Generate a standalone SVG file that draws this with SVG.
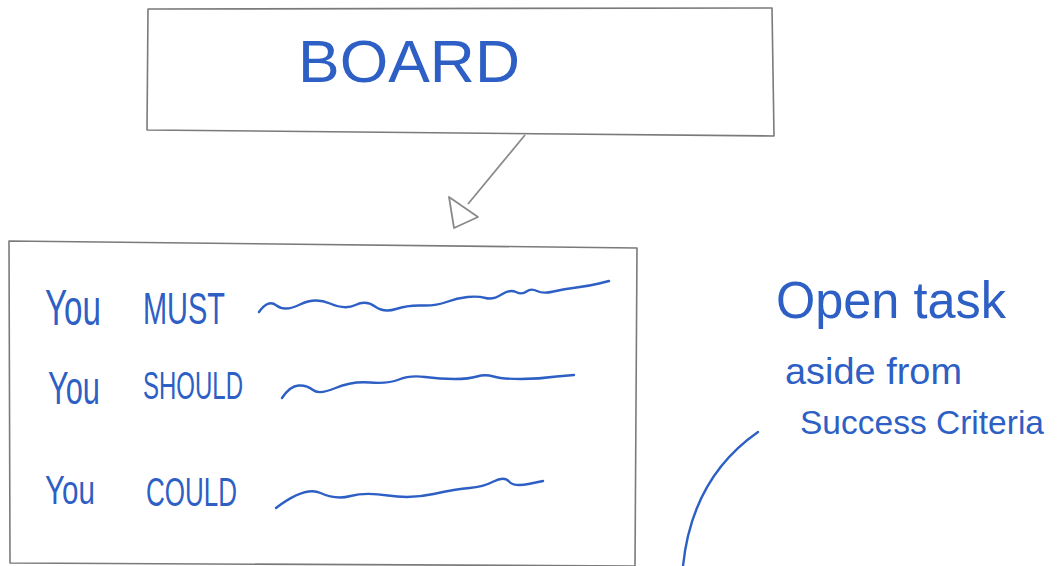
<svg xmlns="http://www.w3.org/2000/svg" width="1060" height="566" viewBox="0 0 1060 566">
<defs>
<style>
.box{fill:none;stroke:#7a7a7a;stroke-width:1.6;stroke-linejoin:round}
.hand{font-family:"Liberation Sans",Arial,sans-serif;fill:#2d5fc4}
.ink{fill:none;stroke:#2d5fc4;stroke-width:2.4;stroke-linecap:round;stroke-linejoin:round}
.conn{fill:none;stroke:#8a8a8a;stroke-width:1.8;stroke-linejoin:round}
</style>
</defs>
<rect width="1060" height="566" fill="#ffffff"/>
<g id="board">
<polygon class="box" points="148,9 772,8 774,136 147,130"/>
<text class="hand" x="298" y="82" font-size="60" textLength="222" lengthAdjust="spacingAndGlyphs">BOARD</text>
</g>
<g id="objectives">
<polygon class="box" points="9,241 637,248 635,566 10,563"/>
<text class="hand" x="45" y="325" font-size="50" textLength="56" lengthAdjust="spacingAndGlyphs">You</text>
<text class="hand" x="143" y="324" font-size="44" textLength="82" lengthAdjust="spacingAndGlyphs">MUST</text>
<path class="ink" d="M259,312 Q268,299 276.5,305.5 Q285,312 300,304.5 Q315,297 330,303.5 Q345,310 355.5,305 Q366,300 375,306.5 Q384,313 396,309 Q408,305 422,305.5 Q436,306 446.5,302 Q457,298 467.5,297 Q478,296 485.5,298 Q493,300 501.5,294.5 Q510,289 516,292 Q522,295 526.5,291.5 Q531,288 537,291 Q543,294 553.5,291.5 Q564,289 576.5,287.5 Q589,286 599,283.5 L609,281"/>
<text class="hand" x="48" y="404" font-size="46" textLength="52" lengthAdjust="spacingAndGlyphs">You</text>
<text class="hand" x="143" y="399" font-size="39" textLength="100" lengthAdjust="spacingAndGlyphs">SHOULD</text>
<path class="ink" d="M282,398 Q290,386 298.5,385.5 Q307,385 313,390 Q319,395 335.5,388 Q352,381 370,382.5 Q388,384 399,379.5 Q410,375 425,377 Q440,379 454.5,379 Q469,379 477,376.5 Q485,374 493.5,376.5 Q502,379 520.5,379 Q539,379 556.5,376.5 L574,375"/>
<text class="hand" x="45" y="504" font-size="41" textLength="50" lengthAdjust="spacingAndGlyphs">You</text>
<text class="hand" x="146" y="506" font-size="41" textLength="91" lengthAdjust="spacingAndGlyphs">COULD</text>
<path class="ink" d="M276,508 Q305,486 320.5,493 Q336,500 350.5,496 Q365,492 388,495.5 Q411,499 433.5,494 Q456,489 469.5,488 Q483,487 493.5,481.5 Q504,476 509,481.5 Q514,487 528.5,484 L543,481"/>
</g>
<g id="note">
<text class="hand" x="776" y="318" font-size="52" textLength="230" lengthAdjust="spacingAndGlyphs">Open task</text>
<text class="hand" x="785" y="384" font-size="36" textLength="177" lengthAdjust="spacingAndGlyphs">aside from</text>
<text class="hand" x="800" y="434" font-size="34" textLength="244" lengthAdjust="spacingAndGlyphs">Success Criteria</text>
</g>
<g id="connectors">
<line class="conn" x1="525" y1="135" x2="468" y2="204"/>
<polygon class="conn" points="449,197 478,217 454,228"/>
<path class="ink" d="M758,432 Q692,478 683,566"/>
</g>
</svg>
